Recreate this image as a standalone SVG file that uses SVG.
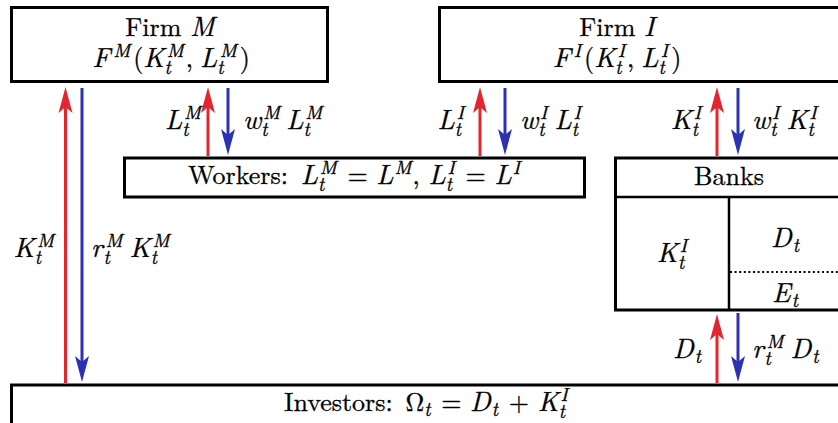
<svg xmlns="http://www.w3.org/2000/svg" width="838" height="423" viewBox="0 0 838 423">
<style>
.box{fill:#fff;stroke:#000;stroke-width:3}
.ln{fill:none;stroke:#000;stroke-width:2.5}
.dot{fill:none;stroke:#000;stroke-width:2;stroke-dasharray:2 2.6}
.r{stroke:#e3262d;stroke-width:3;fill:none}
.b{stroke:#2b33b3;stroke-width:3;fill:none}
.t{font-family:'Latin Modern Roman','CMU Serif','Liberation Serif',serif;font-size:26px;fill:#000;stroke:#000;stroke-width:0.3}
.i{font-style:italic;font-size:27.5px}
.s{font-size:19px;font-style:italic}
.u{font-style:normal;font-size:26px}
</style>
<defs>
<marker id="ar" markerUnits="userSpaceOnUse" markerWidth="30" markerHeight="20" refX="0" refY="0" viewBox="-8 -10 30 20" orient="auto" overflow="visible">
<path d="M20,0 L-6,-7 L0,0 L-6,7 Z" fill="#e3262d"/>
</marker>
<marker id="ab" markerUnits="userSpaceOnUse" markerWidth="30" markerHeight="20" refX="0" refY="0" viewBox="-8 -10 30 20" orient="auto" overflow="visible">
<path d="M20,0 L-6,-7 L0,0 L-6,7 Z" fill="#2b33b3"/>
</marker>
</defs>

<g id="firmM">
<rect class="box" x="11.5" y="7.5" width="316" height="74"/>
<text class="t" x="170" y="36" text-anchor="middle">Firm <tspan class="i">M</tspan></text>
<text class="t i" x="171" y="67" text-anchor="middle">F<tspan class="s" dx="3" dy="-10">M</tspan><tspan class="u" dx="3" dy="10">(</tspan>K<tspan class="s" dy="7">t</tspan><tspan class="s" dx="-4" dy="-17">M</tspan><tspan class="u" dx="2" dy="10">,</tspan><tspan dx="7">L</tspan><tspan class="s" dy="7">t</tspan><tspan class="s" dx="-4" dy="-17">M</tspan><tspan class="u" dx="3" dy="10">)</tspan></text>
</g>

<g id="firmI">
<rect class="box" x="439.5" y="7.5" width="420" height="74"/>
<text class="t" x="617" y="36" text-anchor="middle">Firm <tspan class="i">I</tspan></text>
<text class="t i" x="617" y="67" text-anchor="middle">F<tspan class="s" dx="3" dy="-10">I</tspan><tspan class="u" dx="3" dy="10">(</tspan>K<tspan class="s" dy="7">t</tspan><tspan class="s" dx="-4" dy="-17">I</tspan><tspan class="u" dx="2" dy="10">,</tspan><tspan dx="7">L</tspan><tspan class="s" dy="7">t</tspan><tspan class="s" dx="-4" dy="-17">I</tspan><tspan class="u" dx="3" dy="10">)</tspan></text>
</g>

<g id="workers">
<rect class="box" x="124.5" y="158" width="460" height="39"/>
<text class="t" x="354" y="184" text-anchor="middle">Workers: <tspan class="i" dx="4">L</tspan><tspan class="s" dy="7">t</tspan><tspan class="s" dx="-4.5" dy="-17">M</tspan><tspan dx="2" dy="10"> = </tspan><tspan class="i">L</tspan><tspan class="s" dx="1" dy="-10">M</tspan><tspan dx="1" dy="10">, </tspan><tspan class="i">L</tspan><tspan class="s" dy="7">t</tspan><tspan class="s" dx="-4.5" dy="-17">I</tspan><tspan dx="2" dy="10"> = </tspan><tspan class="i">L</tspan><tspan class="s" dx="1" dy="-10">I</tspan></text>
</g>

<g id="banks">
<rect class="box" x="615.5" y="158" width="240" height="152"/>
<line class="ln" x1="615" y1="197" x2="840" y2="197"/>
<line class="ln" x1="729" y1="197" x2="729" y2="310"/>
<line class="dot" x1="730" y1="272" x2="840" y2="272"/>
<text class="t" x="729" y="185" text-anchor="middle">Banks</text>
<text class="t i" x="672" y="262" text-anchor="middle">K<tspan class="s" dy="7">t</tspan><tspan class="s" dx="-4.5" dy="-17">I</tspan></text>
<text class="t i" x="771" y="247">D<tspan class="s" dx="1" dy="5">t</tspan></text>
<text class="t i" x="772" y="302">E<tspan class="s" dx="1" dy="5">t</tspan></text>
</g>

<g id="investors">
<rect class="box" x="11.5" y="385" width="840" height="50"/>
<text class="t" x="426" y="411" text-anchor="middle">Investors: <tspan dx="4">Ω</tspan><tspan class="s" dy="5">t</tspan><tspan dx="2" dy="-5"> = </tspan><tspan class="i">D</tspan><tspan class="s" dx="1" dy="5">t</tspan><tspan dx="2" dy="-5"> + </tspan><tspan class="i">K</tspan><tspan class="s" dy="7">t</tspan><tspan class="s" dx="-4.5" dy="-17">I</tspan></text>
</g>

<g id="connectors">
<line class="r" x1="65.5" y1="383" x2="65.5" y2="107" marker-end="url(#ar)"/>
<line class="b" x1="82" y1="88" x2="82" y2="362" marker-end="url(#ab)"/>
<line class="r" x1="208" y1="156" x2="208" y2="107" marker-end="url(#ar)"/>
<line class="b" x1="228" y1="88" x2="228" y2="135" marker-end="url(#ab)"/>
<line class="r" x1="480" y1="156" x2="480" y2="107" marker-end="url(#ar)"/>
<line class="b" x1="505" y1="88" x2="505" y2="135" marker-end="url(#ab)"/>
<line class="r" x1="717" y1="156" x2="717" y2="107" marker-end="url(#ar)"/>
<line class="b" x1="738" y1="88" x2="738" y2="135" marker-end="url(#ab)"/>
<line class="r" x1="717" y1="383" x2="717" y2="334" marker-end="url(#ar)"/>
<line class="b" x1="738" y1="313" x2="738" y2="362" marker-end="url(#ab)"/>

<text class="t i" x="54" y="257" text-anchor="end">K<tspan class="s" dy="7">t</tspan><tspan class="s" dx="-4" dy="-17">M</tspan></text>
<text class="t i" x="91" y="257">r<tspan class="s" dx="1" dy="7">t</tspan><tspan class="s" dx="-4.5" dy="-17">M</tspan><tspan dx="7" dy="10">K</tspan><tspan class="s" dy="7">t</tspan><tspan class="s" dx="-4.5" dy="-17">M</tspan></text>

<text class="t i" x="201" y="129" text-anchor="end">L<tspan class="s" dy="7">t</tspan><tspan class="s" dx="-4.5" dy="-17">M</tspan></text>
<text class="t i" x="243" y="129">w<tspan class="s" dy="7">t</tspan><tspan class="s" dx="-4.5" dy="-17">M</tspan><tspan dx="6" dy="10">L</tspan><tspan class="s" dy="7">t</tspan><tspan class="s" dx="-4.5" dy="-17">M</tspan></text>

<text class="t i" x="464" y="129" text-anchor="end">L<tspan class="s" dy="7">t</tspan><tspan class="s" dx="-4.5" dy="-17">I</tspan></text>
<text class="t i" x="520" y="129">w<tspan class="s" dy="7">t</tspan><tspan class="s" dx="-4.5" dy="-17">I</tspan><tspan dx="7" dy="10">L</tspan><tspan class="s" dy="7">t</tspan><tspan class="s" dx="-4.5" dy="-17">I</tspan></text>

<text class="t i" x="701" y="129" text-anchor="end">K<tspan class="s" dy="7">t</tspan><tspan class="s" dx="-4.5" dy="-17">I</tspan></text>
<text class="t i" x="752" y="129">w<tspan class="s" dy="7">t</tspan><tspan class="s" dx="-4.5" dy="-17">I</tspan><tspan dx="7" dy="10">K</tspan><tspan class="s" dy="7">t</tspan><tspan class="s" dx="-4.5" dy="-17">I</tspan></text>

<text class="t i" x="701" y="358" text-anchor="end">D<tspan class="s" dx="1" dy="5">t</tspan></text>
<text class="t i" x="752" y="358">r<tspan class="s" dx="1" dy="7">t</tspan><tspan class="s" dx="-4.5" dy="-17">M</tspan><tspan dx="7" dy="10">D</tspan><tspan class="s" dx="1" dy="5">t</tspan></text>
</g>
</svg>
